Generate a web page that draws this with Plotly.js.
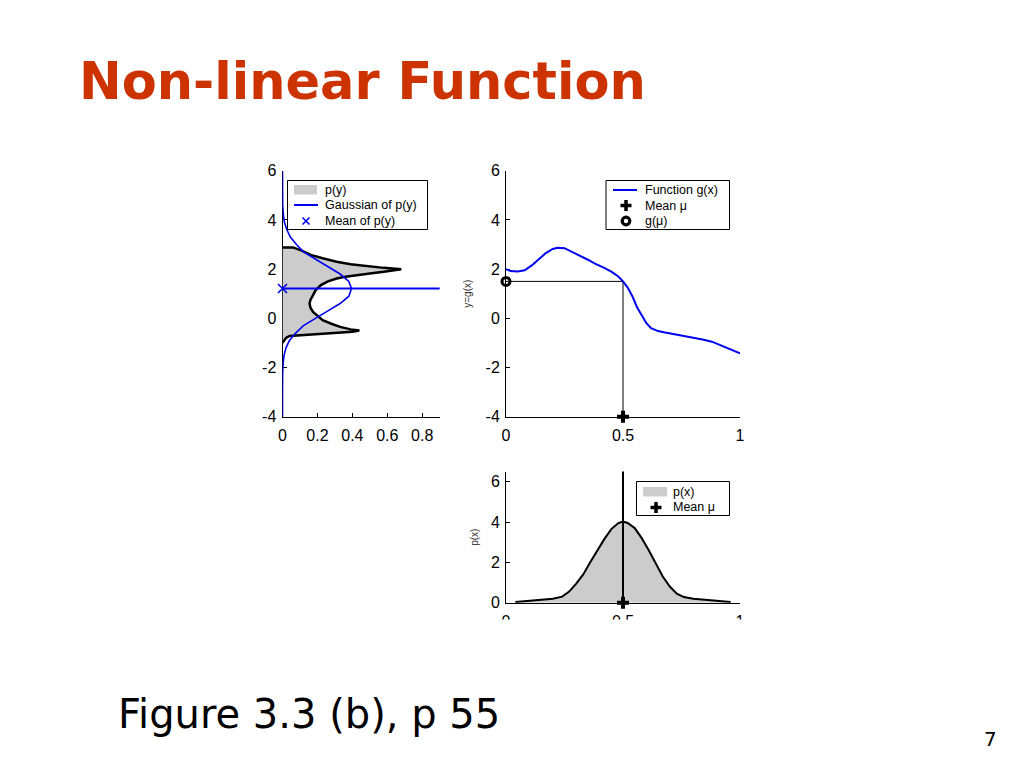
<!DOCTYPE html>
<html><head><meta charset="utf-8">
<script src="https://cdn.plot.ly/plotly-3.0.1.min.js"></script>
<style>html,body{margin:0;padding:0;background:#fff}#chart{width:1024px;height:768px}</style>
</head><body><div id="chart"></div>
<script>
// ---------- data ----------
// g(x): the non-linear function (top-right panel)
const gX = [0, 0.02, 0.05, 0.08, 0.11, 0.14, 0.17, 0.20, 0.22, 0.25, 0.28, 0.31, 0.35, 0.38, 0.42, 0.45, 0.48, 0.50, 0.52, 0.54, 0.56, 0.58, 0.60, 0.62, 0.65, 0.68, 0.72, 0.76, 0.80, 0.84, 0.88, 0.92, 0.96, 1.0];
const gY = [2.0, 1.92, 1.9, 1.95, 2.15, 2.4, 2.65, 2.82, 2.87, 2.85, 2.72, 2.57, 2.38, 2.22, 2.05, 1.9, 1.7, 1.5, 1.25, 0.9, 0.45, 0.1, -0.2, -0.4, -0.52, -0.58, -0.65, -0.72, -0.77, -0.86, -0.95, -1.1, -1.25, -1.42];
const mu = 0.5;       // mean of p(x)
const gMu = 1.5;      // g(mu)
const yAxisMin = -4;  // bottom of the y range, where the mean marker sits

// p(x): input density (bottom panel)
const pxX = [0.04, 0.10, 0.16, 0.20, 0.24, 0.27, 0.30, 0.33, 0.36, 0.39, 0.42, 0.45, 0.48, 0.50, 0.52, 0.55, 0.58, 0.61, 0.64, 0.67, 0.70, 0.73, 0.76, 0.80, 0.85, 0.90, 0.96];
const pxP = [0.03, 0.09, 0.15, 0.2, 0.3, 0.55, 0.95, 1.4, 2.0, 2.6, 3.15, 3.65, 3.95, 4.02, 3.95, 3.7, 3.2, 2.6, 1.95, 1.3, 0.8, 0.45, 0.28, 0.2, 0.15, 0.09, 0.03];

// p(y): transformed density (left panel, drawn sideways)
const pyY = [2.88, 2.88, 2.75, 2.57, 2.43, 2.30, 2.20, 2.12, 2.05, 1.99, 1.94, 1.89, 1.82, 1.76, 1.69, 1.62, 1.50, 1.35, 1.15, 0.94, 0.75, 0.60, 0.43, 0.26, 0.10, -0.08, -0.22, -0.35, -0.45, -0.50, -0.55, -0.60, -0.64, -0.68, -0.72, -0.80, -0.90, -1.0];
const pyP = [0, 0.06, 0.11, 0.165, 0.235, 0.31, 0.39, 0.48, 0.58, 0.68, 0.64, 0.58, 0.50, 0.42, 0.36, 0.31, 0.26, 0.22, 0.19, 0.175, 0.16, 0.155, 0.16, 0.175, 0.20, 0.23, 0.28, 0.33, 0.39, 0.44, 0.40, 0.30, 0.18, 0.08, 0.04, 0.02, 0.01, 0];

// Gaussian fitted to p(y)
const gaussY = [6, 5, 4.6, 4.2, 3.9, 3.6, 3.3, 3.0, 2.7, 2.4, 2.1, 1.8, 1.5, 1.21, 0.9, 0.6, 0.3, 0.0, -0.3, -0.6, -0.9, -1.2, -1.5, -1.8, -2.2, -3, -4];
const gaussP = [0, 0, 0.001, 0.005, 0.011, 0.025, 0.045, 0.08, 0.12, 0.19, 0.26, 0.33, 0.38, 0.395, 0.38, 0.33, 0.26, 0.19, 0.12, 0.075, 0.04, 0.02, 0.009, 0.004, 0.001, 0, 0];
const meanPy = 1.21;

// tick labels
const yTickVals = [-4, -2, 0, 2, 4, 6];
const yTickText = ['-4', '-2', '0', '2', '4', '6'];
const pyTickVals = [0, 0.2, 0.4, 0.6, 0.8];
const pyTickText = ['0', '0.2', '0.4', '0.6', '0.8'];
const xTickVals = [0, 0.5, 1];
const xTickText = ['0', '0.5', '1'];
const pxTickVals = [0, 2, 4, 6];
const pxTickText = ['0', '2', '4', '6'];

// ---------- styling ----------
const W = 1024, H = 768;
const fx = p => p / W;
const fy = p => 1 - p / H;
const BLUE = '#0000f0', GRAY = '#cccccc';
const TICKFONT = {family: 'Liberation Sans, Arial, sans-serif', size: 16, color: '#000'};
const LEGFONT = {family: 'Liberation Sans, Arial, sans-serif', size: 12.5, color: '#000'};
const YTITLEFONT = {family: 'Liberation Sans, Arial, sans-serif', size: 10, color: '#333'};

function axis(extra) {
  return Object.assign({
    showline: true, linecolor: '#000', linewidth: 1,
    ticks: 'inside', ticklen: 4, tickwidth: 1, tickcolor: '#000',
    showgrid: false, zeroline: false, tickmode: 'array',
    tickfont: TICKFONT, layer: 'below traces', fixedrange: true
  }, extra);
}

const traces = [
  // left panel: p(y)
  {x: pyP, y: pyY, xaxis: 'x', yaxis: 'y', mode: 'lines', fill: 'tozerox', fillcolor: GRAY, line: {width: 0, color: GRAY}, hoverinfo: 'skip'},
  {x: pyP, y: pyY, xaxis: 'x', yaxis: 'y', mode: 'lines', line: {width: 2.5, color: '#000'}},
  {x: gaussP, y: gaussY, xaxis: 'x', yaxis: 'y', mode: 'lines', line: {width: 1.6, color: BLUE}},
  {x: [0], y: [meanPy], xaxis: 'x', yaxis: 'y', mode: 'markers', cliponaxis: false,
   marker: {symbol: 'x-thin-open', size: 9, color: BLUE, line: {width: 1.6, color: BLUE}}},
  // top-right: g(x)
  {x: [0, mu, mu], y: [gMu, gMu, yAxisMin], xaxis: 'x2', yaxis: 'y2', mode: 'lines', line: {width: 1, color: '#000'}},
  {x: gX, y: gY, xaxis: 'x2', yaxis: 'y2', mode: 'lines', line: {width: 2, color: BLUE}},
  {x: [0], y: [gMu], xaxis: 'x2', yaxis: 'y2', mode: 'markers', cliponaxis: false,
   marker: {symbol: 'circle-open', size: 8, color: '#000', line: {width: 3, color: '#000'}}},
  {x: [mu], y: [yAxisMin], xaxis: 'x2', yaxis: 'y2', mode: 'markers', cliponaxis: false,
   marker: {symbol: 'cross', size: 10, color: '#000', line: {width: 0}}},
  // bottom: p(x)
  {x: pxX, y: pxP, xaxis: 'x3', yaxis: 'y3', mode: 'lines', fill: 'tozeroy', fillcolor: GRAY, line: {width: 0, color: GRAY}},
  {x: pxX, y: pxP, xaxis: 'x3', yaxis: 'y3', mode: 'lines', line: {width: 2, color: '#000'}},
  {x: [mu], y: [0], xaxis: 'x3', yaxis: 'y3', mode: 'markers', cliponaxis: false,
   marker: {symbol: 'cross', size: 10, color: '#000', line: {width: 0}}}
];

const shapes = [
  // mean of p(y) across left panel
  {type: 'line', xref: 'x domain', yref: 'y', x0: 0, x1: 1, y0: meanPy, y1: meanPy, line: {color: BLUE, width: 2}, layer: 'above'},
  // mean line in bottom panel
  {type: 'line', xref: 'x3', yref: 'y3 domain', x0: mu, x1: mu, y0: 0, y1: 1, line: {color: '#000', width: 2}, layer: 'above'},
  // crop of the bottom tick labels (the slide image is cut there)
  {type: 'rect', xref: 'paper', yref: 'paper', x0: fx(470), x1: fx(790), y0: fy(680), y1: fy(619.5), fillcolor: '#fff', line: {width: 0}, layer: 'above'}
];
const annotations = [];

function box(x0, x1, y0, y1) {
  shapes.push({type: 'rect', xref: 'paper', yref: 'paper', x0: fx(x0), x1: fx(x1), y0: fy(y1), y1: fy(y0), fillcolor: '#fff', line: {color: '#000', width: 1}, layer: 'above'});
}
function patch(x0, x1, y0, y1) {
  shapes.push({type: 'rect', xref: 'paper', yref: 'paper', x0: fx(x0), x1: fx(x1), y0: fy(y1), y1: fy(y0), fillcolor: GRAY, line: {width: 0}, layer: 'above'});
}
function seg(x0, y0, x1, y1, color, width) {
  shapes.push({type: 'line', xref: 'paper', yref: 'paper', x0: fx(x0), x1: fx(x1), y0: fy(y0), y1: fy(y1), line: {color: color, width: width}, layer: 'above'});
}
function plus(cx, cy) {
  seg(cx - 5.5, cy, cx + 5.5, cy, '#000', 3.5);
  seg(cx, cy - 5.5, cx, cy + 5.5, '#000', 3.5);
}
function ring(cx, cy) {
  shapes.push({type: 'circle', xref: 'paper', yref: 'paper', x0: fx(cx - 3.8), x1: fx(cx + 3.8), y0: fy(cy + 3.8), y1: fy(cy - 3.8), line: {color: '#000', width: 3.2}, fillcolor: 'rgba(0,0,0,0)', layer: 'above'});
}
function cross(cx, cy) {
  seg(cx - 3.5, cy - 3.5, cx + 3.5, cy + 3.5, BLUE, 1.6);
  seg(cx - 3.5, cy + 3.5, cx + 3.5, cy - 3.5, BLUE, 1.6);
}
function label(x, y, text) {
  annotations.push({xref: 'paper', yref: 'paper', x: fx(x), y: fy(y), xanchor: 'left', yanchor: 'middle', showarrow: false, text: text, font: LEGFONT, borderpad: 0});
}

// left legend
box(287.5, 427.5, 180.5, 229.5);
patch(294, 317, 185, 194.5);
label(324, 190, 'p(y)');
seg(294, 205, 318, 205, BLUE, 2);
label(324, 205, 'Gaussian of p(y)');
cross(306, 221);
label(324, 221, 'Mean of p(y)');

// top-right legend
box(606, 729.5, 180.5, 229.5);
seg(613, 190, 637, 190, BLUE, 2);
label(644, 190, 'Function g(x)');
plus(626, 205.5);
label(644, 205.5, 'Mean μ');
ring(626, 221);
label(644, 221, 'g(μ)');

// bottom legend
box(636.5, 729.5, 481.5, 515.5);
patch(643, 667, 487, 496.5);
label(672, 491.5, 'p(x)');
plus(656, 507.5);
label(672, 507, 'Mean μ');

// slide texts
annotations.push({xref: 'paper', yref: 'paper', x: fx(116), y: fy(714), xanchor: 'left', yanchor: 'middle', showarrow: false,
  text: 'Figure 3.3 (b), p 55', font: {family: 'DejaVu Sans, Verdana, sans-serif', size: 40, color: '#000'}});
annotations.push({xref: 'paper', yref: 'paper', x: fx(990.5), y: fy(739), xanchor: 'center', yanchor: 'middle', showarrow: false,
  text: '7', font: {family: 'DejaVu Sans, Verdana, sans-serif', size: 20, color: '#000'}});

const layout = {
  width: W, height: H,
  margin: {l: 0, r: 0, t: 0, b: 0},
  paper_bgcolor: '#fff', plot_bgcolor: 'rgba(0,0,0,0)',
  showlegend: false,
  title: {text: 'Non-linear Function', x: fx(79), xanchor: 'left', y: fy(81), yanchor: 'middle',
          font: {family: 'DejaVu Sans, Verdana, sans-serif', size: 51, weight: 'bold', color: '#CC3300'}},
  xaxis: axis({domain: [fx(282.5), fx(439.7)], range: [0, 0.9], anchor: 'y', tickvals: pyTickVals, ticktext: pyTickText, ticklabelstandoff: 4}),
  yaxis: axis({domain: [fy(416.7), fy(170.7)], range: [-4, 6], anchor: 'x', tickvals: yTickVals, ticktext: yTickText, ticklabelstandoff: 2}),
  xaxis2: axis({domain: [fx(506), fx(740)], range: [0, 1], anchor: 'y2', tickvals: xTickVals, ticktext: xTickText, ticklabelstandoff: 4}),
  yaxis2: axis({domain: [fy(416.7), fy(170.7)], range: [-4, 6], anchor: 'x2', tickvals: yTickVals, ticktext: yTickText, ticklabelstandoff: 2,
    title: {text: 'y=g(x)', standoff: 12, font: YTITLEFONT}}),
  xaxis3: axis({domain: [fx(506), fx(740)], range: [0, 1], anchor: 'y3', tickvals: xTickVals, ticktext: xTickText, ticklabelstandoff: 4}),
  yaxis3: axis({domain: [fy(602.7), fy(471.6)], range: [0, 6.5], anchor: 'x3', tickvals: pxTickVals, ticktext: pxTickText, ticklabelstandoff: 2,
    title: {text: 'p(x)', standoff: 10, font: YTITLEFONT}}),
  shapes: shapes,
  annotations: annotations
};

Plotly.newPlot('chart', traces, layout, {staticPlot: true, displayModeBar: false});
</script>
</body></html>
